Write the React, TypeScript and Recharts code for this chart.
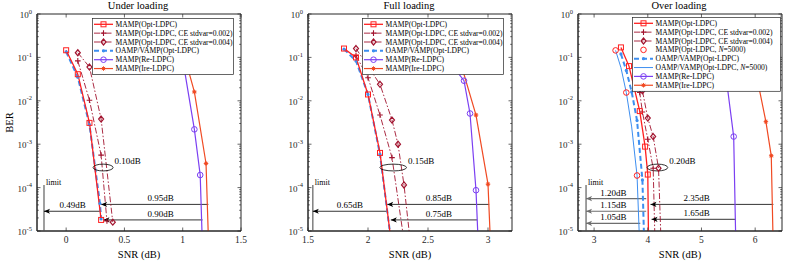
import React from 'react';
import { LineChart, Line, XAxis, YAxis, ReferenceLine, ReferenceDot, ReferenceArea } from 'recharts';

const AX = '#262626';
const FONT = "'Liberation Serif', 'Times New Roman', serif";

// BER vs SNR (dB). Points below 1e-5 only set where a curve leaves the frame.
// ---- Under loading
const underMamp = [{ x: 0, y: 0.146 }, { x: 0.1, y: 0.041 }, { x: 0.2, y: 0.0031 }, { x: 0.3, y: 1.8e-5 }];
const underCe002 = [{ x: 0.1, y: 0.083 }, { x: 0.2, y: 0.0103 }, { x: 0.3, y: 5.6e-4 }, { x: 0.35, y: 1.7e-5 }];
const underCe004 = [{ x: 0.1, y: 0.128 }, { x: 0.2, y: 0.06 }, { x: 0.3, y: 0.0038 }, { x: 0.4, y: 1.6e-5 }];
const underOamp = [{ x: 0, y: 0.135 }, { x: 0.1, y: 0.035 }, { x: 0.2, y: 0.0028 }, { x: 0.29, y: 4.3e-5 }, { x: 0.3, y: 1.9e-5 }];
const underRe = [{ x: 1.0, y: 0.09 }, { x: 1.1, y: 0.0022 }, { x: 1.15, y: 1.95e-4 }, { x: 1.2, y: 1e-8 }];
const underIre = [{ x: 1.0, y: 0.15 }, { x: 1.1, y: 0.016 }, { x: 1.2, y: 3.6e-4 }, { x: 1.25, y: 2e-8 }];

// ---- Full loading
const fullMamp = [{ x: 1.8, y: 0.16 }, { x: 1.9, y: 0.1 }, { x: 2.0, y: 0.014 }, { x: 2.1, y: 6.3e-4 }, { x: 2.2, y: 4e-6 }];
const fullCe002 = [{ x: 1.9, y: 0.11 }, { x: 2.0, y: 0.034 }, { x: 2.1, y: 0.0047 }, { x: 2.2, y: 4.9e-4 }, { x: 2.3, y: 6e-6 }];
const fullCe004 = [{ x: 1.9, y: 0.16 }, { x: 2.1, y: 0.024 }, { x: 2.2, y: 0.0036 }, { x: 2.25, y: 0.001 }, { x: 2.3, y: 1.15e-4 }, { x: 2.35, y: 6.5e-6 }];
const fullOamp = [{ x: 1.8, y: 0.155 }, { x: 1.9, y: 0.083 }, { x: 2.0, y: 0.014 }, { x: 2.1, y: 5.8e-4 }, { x: 2.2, y: 4e-6 }];
const fullRe = [{ x: 2.7, y: 0.066 }, { x: 2.8, y: 0.029 }, { x: 2.85, y: 0.0051 }, { x: 2.9, y: 8.7e-5 }, { x: 2.95, y: 4e-8 }];
const fullIre = [{ x: 2.75, y: 0.12 }, { x: 2.9, y: 0.0047 }, { x: 3.0, y: 1.2e-4 }, { x: 3.05, y: 6e-8 }];

// ---- Over loading
const overMamp = [{ x: 3.5, y: 0.17 }, { x: 3.65, y: 0.063 }, { x: 3.85, y: 0.0058 }, { x: 3.95, y: 8.8e-4 }, { x: 4.0, y: 2e-4 }, { x: 4.03, y: 1e-7 }];
const overCe002 = [{ x: 3.8, y: 0.03 }, { x: 3.85, y: 0.0155 }, { x: 3.9, y: 0.0055 }, { x: 4.0, y: 0.0013 }, { x: 4.1, y: 2.8e-4 }, { x: 4.15, y: 1e-6 }];
const overCe004 = [{ x: 3.85, y: 0.03 }, { x: 3.9, y: 0.017 }, { x: 4.0, y: 0.004 }, { x: 4.1, y: 0.0015 }, { x: 4.2, y: 2.8e-4 }, { x: 4.3, y: 7e-8 }];
const overMamp5000 = [{ x: 3.4, y: 0.145 }, { x: 3.6, y: 0.0155 }, { x: 3.8, y: 1.9e-4 }];
const overOamp = [{ x: 3.5, y: 0.12 }, { x: 3.6, y: 0.05 }, { x: 3.7, y: 0.016 }, { x: 3.8, y: 0.0035 }, { x: 3.9, y: 1.5e-4 }, { x: 3.95, y: 1e-6 }];
const overOamp5000 = [{ x: 3.4, y: 0.145 }, { x: 3.5, y: 0.058 }, { x: 3.6, y: 0.0155 }, { x: 3.7, y: 0.0025 }, { x: 3.8, y: 1.9e-4 }, { x: 3.9, y: 1e-7 }];
const overRe = [{ x: 5.4, y: 0.13 }, { x: 5.6, y: 0.0015 }, { x: 5.65, y: 1.2e-6 }];
const overIre = [{ x: 6.0, y: 0.055 }, { x: 6.2, y: 0.0033 }, { x: 6.3, y: 5.4e-4 }, { x: 6.35, y: 7e-7 }];

const Y_DECADES = [1e-5, 1e-4, 1e-3, 1e-2, 1e-1, 1];
const Y_MINOR = [2, 3, 4, 5, 6, 7, 8, 9];
const Y_TICKS = Y_DECADES.flatMap((d, i) => (i < Y_DECADES.length - 1 ? [d, ...Y_MINOR.map((m) => m * d)] : [d]));
const Y_BOT = 1e-5;
const Y_TOP = 1;

const underTicks = [0, 0.5, 1, 1.5];
const fullTicks = [1.5, 2, 2.5, 3];
const overTicks = [3, 4, 5, 6];

type Kind = 'square' | 'plus' | 'diamond' | 'circle' | 'dot' | 'star' | 'none';
type Style = { name: React.ReactNode; color: string; width: number; dash?: string; marker: Kind };

const ST: Record<string, Style> = {
  mamp: { name: 'MAMP(Opt-LDPC)', color: '#ff2020', width: 1.3, marker: 'square' },
  ce002: { name: 'MAMP(Opt-LDPC, CE stdvar=0.002)', color: '#a2142f', width: 0.9, dash: '6 2 1.5 2', marker: 'plus' },
  ce004: { name: 'MAMP(Opt-LDPC, CE stdvar=0.004)', color: '#a2142f', width: 0.9, dash: '6 2 1.5 2', marker: 'diamond' },
  mamp5000: { name: <>MAMP(Opt-LDPC, <tspan fontStyle="italic">N</tspan>=5000)</>, color: '#ff2020', width: 0, marker: 'circle' },
  oamp: { name: 'OAMP/VAMP(Opt-LDPC)', color: '#3d8ef0', width: 2, dash: '5 3', marker: 'dot' },
  oamp5000: { name: <>OAMP/VAMP(Opt-LDPC, <tspan fontStyle="italic">N</tspan>=5000)</>, color: '#3d8ef0', width: 1, marker: 'none' },
  re: { name: 'MAMP(Re-LDPC)', color: '#7b3ff2', width: 1.2, marker: 'circle' },
  ire: { name: 'MAMP(Ire-LDPC)', color: '#f04a23', width: 1.2, marker: 'star' },
};

function Marker({ kind, color, x, y }: { kind: Kind; color: string; x: number; y: number }) {
  switch (kind) {
    case 'square':
      return <rect x={x - 2.5} y={y - 2.5} width={5} height={5} fill="none" stroke={color} strokeWidth={1} />;
    case 'plus':
      return <path d={`M${x - 2.8},${y}H${x + 2.8}M${x},${y - 2.8}V${y + 2.8}`} stroke={color} strokeWidth={1.1} />;
    case 'diamond':
      return <path d={`M${x},${y - 3}L${x + 2.5},${y}L${x},${y + 3}L${x - 2.5},${y}Z`} fill="none" stroke={color} strokeWidth={1.2} />;
    case 'circle':
      return <circle cx={x} cy={y} r={2.8} fill="none" stroke={color} strokeWidth={1} />;
    case 'dot':
      return <circle cx={x} cy={y} r={1.6} fill={color} />;
    case 'star':
      return (
        <g stroke={color} strokeWidth={0.9}>
          <path d={`M${x - 2.3},${y}H${x + 2.3}M${x},${y - 2.3}V${y + 2.3}M${x - 1.6},${y - 1.6}L${x + 1.6},${y + 1.6}M${x - 1.6},${y + 1.6}L${x + 1.6},${y - 1.6}`} />
          <circle cx={x} cy={y} r={1.2} fill={color} />
        </g>
      );
    default:
      return null;
  }
}

const XTick = (p: any) => (
  <g>
    <line x1={p.x} x2={p.x} y1={p.y} y2={p.y - 3.5} stroke={AX} strokeWidth={0.7} />
    <text x={p.x} y={p.y + 12} textAnchor="middle" fontSize={9.5} fontFamily={FONT} fill={AX}>{p.payload.value}</text>
  </g>
);

const isMajor = (v: number) => Math.abs(Math.log10(v) - Math.round(Math.log10(v))) < 1e-6;
const YTick = (p: any) => {
  const v = p.payload.value;
  const major = isMajor(v);
  return (
    <g>
      <line x1={p.x} x2={p.x + (major ? 3.5 : 1.8)} y1={p.y} y2={p.y} stroke={AX} strokeWidth={0.7} />
      {major && (
        <text x={p.x - 5} y={p.y + 4} textAnchor="end" fontFamily={FONT} fill={AX}>
          <tspan fontSize={9}>10</tspan>
          <tspan fontSize={6.5} dy={-4.5}>{Math.round(Math.log10(v))}</tspan>
        </text>
      )}
    </g>
  );
};

type Arrow = { from: number; to: number; y: number; label: string; lx: number; gray?: boolean };
type Ring = { x: number; y: number; rx: number; label: string };
type PanelCfg = {
  left: number;
  title: string;
  domain: [number, number];
  ticks: number[];
  series: { data: { x: number; y: number }[]; st: Style }[];
  limit: number;
  arrows: Arrow[];
  ring: Ring;
  yLabel?: boolean;
};

const note = (txt: string, dx: number, dy: number, anchor: string, size = 9) => (p: any) => (
  <text x={p.cx + dx} y={p.cy + dy} textAnchor={anchor} fontSize={size} fontFamily={FONT} style={{ fill: '#000' }}>{txt}</text>
);

const Panel = ({ c }: { c: PanelCfg }) => {
  const [lo, hi] = c.domain;
  return (
    <div style={{ position: 'absolute', left: c.left - 40 + 0.5, top: 0.5 }}>
      <LineChart width={256} height={261} margin={{ top: 13, right: 12, bottom: 1, left: 0 }}>
        <XAxis xAxisId="b" type="number" dataKey="x" domain={c.domain} ticks={c.ticks} allowDataOverflow interval={0}
          tickSize={0} tickMargin={0} tickLine={false} axisLine={{ stroke: AX, strokeWidth: 1 }} height={30} tick={XTick}
          label={{ value: 'SNR (dB)', position: 'insideBottom', offset: 3.5, fontSize: 10.5, fill: '#000', fontFamily: FONT }} />
        <YAxis yAxisId="l" type="number" scale="log" domain={[Y_BOT, Y_TOP]} ticks={Y_TICKS} allowDataOverflow interval={0}
          tickSize={0} tickMargin={0} tickLine={false} axisLine={{ stroke: AX, strokeWidth: 1 }} width={40} tick={YTick}
          label={c.yLabel ? {
            content: (p: any) => (
              <text transform={`translate(${p.viewBox.x + 15.5},${p.viewBox.y + p.viewBox.height / 2}) rotate(-90)`}
                textAnchor="middle" fontSize={10.5} fontFamily={FONT} fill="#000">BER</text>
            ),
          } : undefined} />

        {/* axes box with inward ticks on the top and right edges */}
        <ReferenceArea xAxisId="b" yAxisId="l" x1={lo} x2={hi} y1={Y_BOT} y2={Y_TOP} ifOverflow="visible"
          fill="none" fillOpacity={0} stroke={AX} strokeWidth={1} strokeOpacity={1} />
        {c.ticks.map((t) => (
          <ReferenceDot key={`tt${t}`} xAxisId="b" yAxisId="l" x={t} y={Y_TOP} ifOverflow="visible"
            shape={(p: any) => <line x1={p.cx} x2={p.cx} y1={p.cy} y2={p.cy + 3.5} stroke={AX} strokeWidth={0.7} />} />
        ))}
        {Y_TICKS.map((v) => (
          <ReferenceDot key={`rt${v}`} xAxisId="b" yAxisId="l" x={hi} y={v} ifOverflow="visible"
            shape={(p: any) => <line x1={p.cx} x2={p.cx - (isMajor(v) ? 3.5 : 1.8)} y1={p.cy} y2={p.cy} stroke={AX} strokeWidth={0.7} />} />
        ))}

        <ReferenceLine xAxisId="b" yAxisId="l" segment={[{ x: c.limit, y: 1.15e-4 }, { x: c.limit, y: Y_BOT }]} stroke="#7f7f7f" strokeWidth={1.5} />
        <ReferenceDot xAxisId="b" yAxisId="l" x={c.limit} y={1.15e-4} shape={note('limit', 2, 0, 'start', 8)} />

        {c.arrows.map((a, i) => (
          <ReferenceLine key={`al${i}`} xAxisId="b" yAxisId="l" segment={[{ x: a.from, y: a.y }, { x: a.to, y: a.y }]}
            stroke={a.gray ? '#6e6e6e' : '#000'} strokeWidth={a.gray ? 1.2 : 0.8} />
        ))}
        {c.arrows.map((a, i) => (
          <ReferenceDot key={`ah${i}`} xAxisId="b" yAxisId="l" x={a.to} y={a.y}
            shape={(p: any) => (
              <path d={`M${p.cx},${p.cy}L${p.cx + 6},${p.cy - 2.6}L${p.cx + 4.5},${p.cy}L${p.cx + 6},${p.cy + 2.6}Z`} fill={a.gray ? '#6e6e6e' : '#000'} />
            )} />
        ))}
        {c.arrows.map((a, i) => (
          <ReferenceDot key={`at${i}`} xAxisId="b" yAxisId="l" x={a.lx} y={a.y} shape={note(a.label, 0, -3, 'middle')} />
        ))}
        <ReferenceDot xAxisId="b" yAxisId="l" x={c.ring.x} y={c.ring.y}
          shape={(p: any) => <ellipse cx={p.cx} cy={p.cy} rx={c.ring.rx} ry={3.4} fill="none" stroke="#000" strokeWidth={0.8} />} />
        <ReferenceDot xAxisId="b" yAxisId="l" x={c.ring.x} y={c.ring.y} shape={note(c.ring.label, c.ring.rx + 1.5, -3.5, 'start')} />

        {c.series.map((s, i) => (
          <Line key={i} xAxisId="b" yAxisId="l" data={s.data} dataKey="y" type="linear" isAnimationActive={false}
            stroke={s.st.width ? s.st.color : 'none'} strokeWidth={s.st.width || 1} strokeDasharray={s.st.dash}
            dot={(p: any) => <Marker key={p.index} kind={s.st.marker} color={s.st.color} x={p.cx} y={p.cy} />}
            activeDot={false} />
        ))}
      </LineChart>
    </div>
  );
};

const panels: PanelCfg[] = [
  {
    left: 36, title: 'Under loading', domain: [-0.25, 1.5], ticks: underTicks, yLabel: true, limit: -0.19,
    series: [
      { data: underOamp, st: ST.oamp }, { data: underCe004, st: ST.ce004 }, { data: underCe002, st: ST.ce002 },
      { data: underMamp, st: ST.mamp }, { data: underRe, st: ST.re }, { data: underIre, st: ST.ire },
    ],
    arrows: [
      { from: 1.22, to: 0.3, y: 4.1e-5, label: '0.95dB', lx: 0.81 },
      { from: 1.17, to: 0.32, y: 1.8e-5, label: '0.90dB', lx: 0.81 },
      { from: 0.3, to: -0.19, y: 2.85e-5, label: '0.49dB', lx: 0.055 },
    ],
    ring: { x: 0.317, y: 2.9e-4, rx: 10, label: '0.10dB' },
  },
  {
    left: 307, title: 'Full loading', domain: [1.5, 3.2], ticks: fullTicks, limit: 1.54,
    series: [
      { data: fullOamp, st: ST.oamp }, { data: fullCe004, st: ST.ce004 }, { data: fullCe002, st: ST.ce002 },
      { data: fullMamp, st: ST.mamp }, { data: fullRe, st: ST.re }, { data: fullIre, st: ST.ire },
    ],
    arrows: [
      { from: 3.01, to: 2.16, y: 4.1e-5, label: '0.85dB', lx: 2.59 },
      { from: 2.91, to: 2.19, y: 1.8e-5, label: '0.75dB', lx: 2.59 },
      { from: 2.16, to: 1.54, y: 2.85e-5, label: '0.65dB', lx: 1.85 },
    ],
    ring: { x: 2.21, y: 2.9e-4, rx: 13.3, label: '0.15dB' },
  },
  {
    left: 577, title: 'Over loading', domain: [2.7, 6.5], ticks: overTicks, limit: 2.85,
    series: [
      { data: overOamp5000, st: ST.oamp5000 }, { data: overOamp, st: ST.oamp }, { data: overCe004, st: ST.ce004 },
      { data: overCe002, st: ST.ce002 }, { data: overMamp, st: ST.mamp }, { data: overMamp5000, st: ST.mamp5000 },
      { data: overRe, st: ST.re }, { data: overIre, st: ST.ire },
    ],
    arrows: [
      { from: 6.34, to: 4.05, y: 4.1e-5, label: '2.35dB', lx: 4.91 },
      { from: 5.64, to: 4.07, y: 1.86e-5, label: '1.65dB', lx: 4.91 },
      { from: 3.97, to: 2.85, y: 5.6e-5, label: '1.20dB', lx: 3.36, gray: true },
      { from: 3.97, to: 2.85, y: 2.85e-5, label: '1.15dB', lx: 3.36, gray: true },
      { from: 3.86, to: 2.85, y: 1.5e-5, label: '1.05dB', lx: 3.36, gray: true },
    ],
    ring: { x: 4.18, y: 2.9e-4, rx: 10.3, label: '0.20dB' },
  },
];

const legends = [
  { x: 92, y: 18, w: 141, items: [ST.mamp, ST.ce002, ST.ce004, ST.oamp, ST.re, ST.ire] },
  { x: 362, y: 18, w: 141, items: [ST.mamp, ST.ce002, ST.ce004, ST.oamp, ST.re, ST.ire] },
  { x: 632, y: 17, w: 148, items: [ST.mamp, ST.ce002, ST.ce004, ST.mamp5000, ST.oamp, ST.oamp5000, ST.re, ST.ire] },
];
const ROW = 8.85;

const Overlay = () => (
  <svg width={789} height={261} style={{ position: 'absolute', left: 0, top: 0, pointerEvents: 'none' }}>
    {panels.map((c, i) => (
      <text key={`t${i}`} x={c.left + 102} y={9} textAnchor="middle" fontSize={10.5} fontFamily={FONT} fill="#000">{c.title}</text>
    ))}
    {legends.map((lg, li) => (
      <g key={li}>
        <rect x={lg.x + 0.5} y={lg.y + 0.5} width={lg.w} height={lg.items.length * ROW + 3} fill="#fff" stroke={AX} strokeWidth={0.7} />
        {lg.items.map((st, i) => {
          const cy = lg.y + 6.3 + i * ROW;
          return (
            <g key={i}>
              {st.width > 0 && (
                <line x1={lg.x + 2} x2={lg.x + 21} y1={cy} y2={cy} stroke={st.color} strokeWidth={st.width} strokeDasharray={st.dash} />
              )}
              <Marker kind={st.marker} color={st.color} x={lg.x + 11.5} y={cy} />
              <text x={lg.x + 23.5} y={cy + 2.6} fontSize={7.6} fontFamily={FONT} fill="#000">{st.name}</text>
            </g>
          );
        })}
      </g>
    ))}
  </svg>
);

export default function App() {
  return (
    <div style={{ position: 'absolute', left: 0, top: 0, width: 789, height: 261, background: '#fff', overflow: 'hidden' }}>
      {panels.map((c, i) => <Panel key={i} c={c} />)}
      <Overlay />
    </div>
  );
}
